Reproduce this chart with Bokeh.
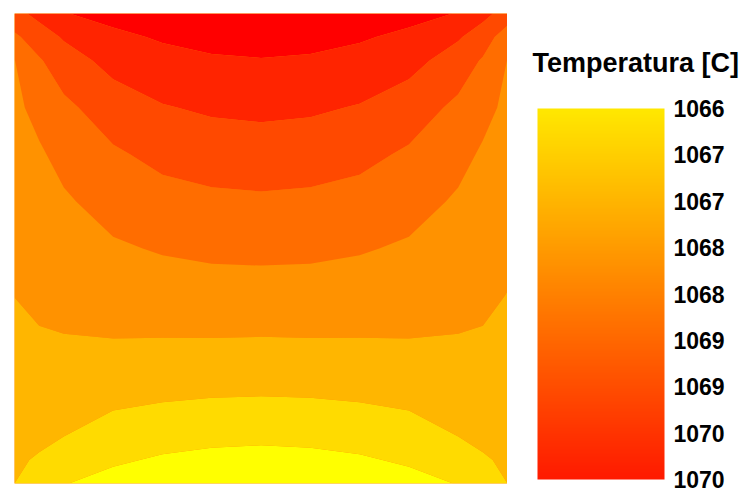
import numpy as np
from bokeh.plotting import figure
from bokeh.layouts import row
from bokeh.models import ColorBar, LinearColorMapper, FixedTicker, Range1d, Label
from bokeh.embed import file_html
from bokeh.resources import INLINE

# grid positions (fraction of plate width / height)
x_pos = [0.0, 0.05, 0.1, 0.2, 0.3, 0.4, 0.5, 0.6, 0.7, 0.8, 0.9, 0.95, 1.0]
y_pos = [0.0, 0.05, 0.1, 0.2, 0.3, 0.4, 0.5, 0.6, 0.7, 0.8, 0.9, 0.95, 1.0]

# temperature [C], rows from bottom (y=0) to top (y=1)
temperature = [
    [1067.00, 1066.75, 1066.52, 1066.33, 1066.20, 1066.13, 1066.10, 1066.13, 1066.20, 1066.33, 1066.52, 1066.75, 1067.00],
    [1067.06, 1066.96, 1066.77, 1066.57, 1066.44, 1066.37, 1066.35, 1066.37, 1066.44, 1066.57, 1066.77, 1066.96, 1067.06],
    [1067.13, 1067.08, 1067.00, 1066.79, 1066.68, 1066.62, 1066.59, 1066.62, 1066.68, 1066.79, 1067.00, 1067.08, 1067.13],
    [1067.25, 1067.26, 1067.23, 1067.17, 1067.12, 1067.08, 1067.07, 1067.08, 1067.12, 1067.17, 1067.23, 1067.26, 1067.25],
    [1067.38, 1067.45, 1067.47, 1067.48, 1067.47, 1067.47, 1067.46, 1067.47, 1067.47, 1067.48, 1067.47, 1067.45, 1067.37],
    [1067.505, 1067.59, 1067.63, 1067.71, 1067.76, 1067.79, 1067.79, 1067.79, 1067.76, 1067.71, 1067.63, 1067.59, 1067.49],
    [1067.60, 1067.70, 1067.78, 1067.94, 1068.04, 1068.10, 1068.12, 1068.10, 1068.04, 1067.94, 1067.78, 1067.70, 1067.60],
    [1067.70, 1067.82, 1067.94, 1068.18, 1068.33, 1068.40, 1068.43, 1068.40, 1068.33, 1068.18, 1067.94, 1067.82, 1067.70],
    [1067.80, 1067.94, 1068.14, 1068.43, 1068.63, 1068.73, 1068.76, 1068.73, 1068.63, 1068.43, 1068.14, 1067.94, 1067.80],
    [1067.90, 1068.14, 1068.39, 1068.76, 1068.97, 1069.07, 1069.11, 1069.07, 1068.97, 1068.76, 1068.39, 1068.14, 1067.90],
    [1067.99, 1068.45, 1068.78, 1069.16, 1069.35, 1069.45, 1069.48, 1069.45, 1069.35, 1069.16, 1068.78, 1068.45, 1067.99],
    [1068.41, 1068.76, 1069.05, 1069.40, 1069.55, 1069.63, 1069.66, 1069.63, 1069.55, 1069.40, 1069.05, 1068.76, 1068.22],
    [1068.85, 1069.14, 1069.48, 1069.65, 1069.76, 1069.82, 1069.85, 1069.82, 1069.76, 1069.65, 1069.48, 1069.14, 1068.80],
]

levels = [1066.0, 1066.5, 1067.0, 1067.5, 1068.0, 1068.5, 1069.0, 1069.5, 1070.0]
band_colors = ["#FFFF00", "#FFDB00", "#FFB600", "#FF9200", "#FF6D00", "#FF4900", "#FF2400", "#FF0000"]

tick_values = [1066.0, 1066.5, 1067.0, 1067.5, 1068.0, 1068.5, 1069.0, 1069.5, 1070.0]
tick_labels = ["1066", "1067", "1067", "1068", "1068", "1069", "1069", "1070", "1070"]

colorbar_title = "Temperatura [C]"

FONT = "Liberation Sans"

# ---- contour plot ----
p = figure(frame_width=493, frame_height=470,
           x_range=Range1d(0, 1), y_range=Range1d(0, 1),
           output_backend="svg", toolbar_location=None,
           min_border_left=14, min_border_top=13, min_border_bottom=6,
           min_border_right=0)
p.axis.visible = False
p.grid.visible = False
p.outline_line_color = None
p.background_fill_color = "#FF9200"
p.border_fill_color = "white"

p.contour(x_pos, y_pos, np.array(temperature), levels, fill_color=band_colors)

# ---- colour bar panel ----
n = 256
bar_palette = []
for i in range(n):
    t = i / (n - 1)
    g = int(round(26 + t * (232 - 26)))
    bar_palette.append("#FF%02X00" % g)
# reversed mapper: cool (yellow) at top, hot (red) at bottom
mapper = LinearColorMapper(palette=bar_palette, low=1070.0, high=1066.0)

q = figure(frame_width=236, frame_height=470,
           x_range=Range1d(0, 1), y_range=Range1d(0, 1),
           output_backend="svg", toolbar_location=None,
           min_border_left=0, min_border_right=0, min_border_bottom=6,
           min_border_top=13)
q.axis.visible = False
q.grid.visible = False
q.outline_line_color = None
q.background_fill_color = None
q.border_fill_color = "white"

cb = ColorBar(color_mapper=mapper,
              ticker=FixedTicker(ticks=tick_values),
              major_label_overrides=dict(zip(tick_values, tick_labels)),
              width=127, height=371,
              location=(30, 4),
              padding=0, margin=0,
              label_standoff=9,
              major_tick_line_color=None, minor_tick_line_color=None,
              bar_line_color=None, border_line_color=None,
              background_fill_color=None,
              major_label_text_font=FONT,
              major_label_text_font_size="23px",
              major_label_text_font_style="bold",
              major_label_text_color="black")
q.add_layout(cb)

title = Label(x=25, y=421, x_units="screen", y_units="screen",
              text=colorbar_title, text_font=FONT, text_font_size="27px",
              text_font_style="bold", text_color="black",
              text_baseline="alphabetic", text_align="left")
q.add_layout(title)

layout = row(p, q, spacing=0)

open("out.html", "w").write(file_html(layout, INLINE))
